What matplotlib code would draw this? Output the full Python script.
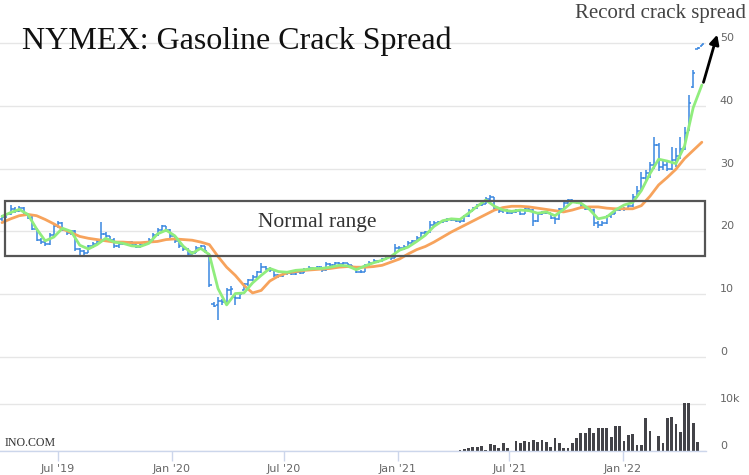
import numpy as np
import pandas as pd
import matplotlib
matplotlib.use("Agg")
import matplotlib.pyplot as plt
import matplotlib.dates as mdates
from matplotlib.transforms import ScaledTranslation, blended_transform_factory
from matplotlib.patches import Rectangle

# ---------------- data (weekly bars) ----------------
start_date = "2019-04-01"
n_weeks = 163

opens = [
    22.0, 22.3, 22.8, 23.6, 23.3, 23.8, 22.8, 22.2, 20.4, 18.6,
    18.3, 18.0, 19.4, 20.8, 21.4, 20.2, 19.8, 20.1, 17.2, 16.8,
    16.6, 17.6, 18.0, 18.4, 19.6, 19.2, 18.7, 17.6, 18.0, 18.1,
    18.3, 17.8, 17.5, 17.9, 18.3, 18.6, 19.4, 20.2, 20.8, 20.3,
    19.2, 18.4, 17.6, 17.2, 16.4, 16.6, 17.3, 17.6, 16.4, 8.4,
    8.3, 8.9, 8.8, 10.6, 9.6, 9.4, 10.7, 11.6, 12.3, 12.8,
    13.5, 14.3, 14.0, 13.9, 13.0, 12.9, 13.3, 13.4, 13.2, 13.6,
    13.4, 13.9, 14.2, 14.0, 14.3, 13.8, 14.8, 14.6, 14.9, 14.8,
    14.9, 14.6, 14.4, 13.5, 13.6, 14.6, 15.0, 15.3, 15.3, 15.6,
    15.9, 15.8, 17.4, 17.3, 17.5, 18.2, 18.4, 19.0, 19.7, 19.9,
    21.0, 21.4, 21.5, 21.6, 21.9, 21.8, 21.7, 21.6, 22.4, 23.3,
    23.7, 24.2, 24.4, 25.2, 25.4, 23.6, 23.2, 23.4, 22.9, 23.1,
    23.3, 22.8, 23.6, 23.4, 21.6, 22.8, 23.0, 22.9, 22.2, 21.9,
    23.6, 24.6, 25.0, 24.9, 24.6, 24.0, 23.6, 23.4, 21.4, 21.0,
    21.3, 22.4, 22.8, 23.4, 23.5, 23.6, 24.0, 25.5, 26.5, 28.5,
    29.3, 30.5, 33.8, 30.3, 30.6, 30.0, 31.4, 32.0, 33.2, 36.0,
    43.0, 49.0, 49.6,
]
highs = [
    22.6, 23.0, 24.2, 23.9, 24.0, 23.9, 23.0, 22.4, 20.6, 18.9,
    18.5, 19.7, 21.0, 21.6, 21.5, 20.4, 20.3, 20.2, 17.4, 17.0,
    17.9, 18.3, 18.6, 21.5, 19.9, 19.3, 18.9, 18.2, 18.4, 18.5,
    18.4, 18.0, 18.1, 18.5, 19.0, 19.7, 20.5, 21.0, 20.9, 20.4,
    19.3, 18.6, 17.9, 17.3, 16.9, 17.6, 17.9, 17.7, 16.6, 8.7,
    9.6, 9.3, 11.0, 11.3, 9.9, 10.4, 11.8, 12.4, 13.0, 13.7,
    14.9, 14.5, 14.3, 14.0, 13.2, 13.5, 13.7, 13.5, 13.8, 13.7,
    14.1, 14.5, 14.3, 14.5, 14.4, 15.2, 15.0, 15.2, 15.1, 15.1,
    15.0, 14.7, 14.5, 13.9, 14.8, 15.3, 15.6, 15.5, 15.8, 16.1,
    16.0, 18.0, 17.6, 17.8, 18.4, 18.6, 19.2, 19.9, 20.1, 21.7,
    21.6, 21.7, 21.8, 22.1, 22.0, 21.9, 21.8, 22.6, 23.5, 23.9,
    24.4, 24.6, 25.5, 25.8, 25.5, 23.8, 23.6, 23.5, 23.3, 23.5,
    23.4, 23.8, 23.7, 23.5, 23.0, 23.2, 23.1, 23.0, 22.3, 23.8,
    24.8, 25.2, 25.1, 25.0, 24.7, 24.1, 23.8, 23.5, 21.6, 21.6,
    22.6, 23.0, 23.6, 23.8, 23.9, 24.3, 26.0, 27.2, 29.5, 29.8,
    31.0, 35.0, 34.1, 31.2, 31.0, 33.5, 33.3, 35.0, 36.6, 41.7,
    45.7, 49.4, 49.9,
]
lows = [
    21.7, 22.1, 22.6, 23.0, 23.1, 22.5, 21.9, 20.2, 18.4, 18.0,
    17.7, 17.9, 19.2, 20.5, 20.0, 19.5, 19.4, 16.9, 16.3, 16.2,
    16.5, 17.4, 17.8, 18.3, 18.9, 18.4, 17.3, 17.4, 17.8, 17.9,
    17.6, 17.3, 17.4, 17.7, 18.1, 18.4, 19.2, 20.0, 19.9, 18.9,
    18.2, 17.3, 16.9, 16.1, 16.2, 16.5, 17.1, 16.5, 11.1, 7.9,
    5.9, 8.3, 8.6, 9.9, 8.3, 9.2, 10.6, 11.3, 12.1, 12.6,
    13.3, 13.8, 13.6, 12.7, 12.6, 12.8, 13.1, 13.0, 13.1, 13.2,
    13.3, 13.8, 13.8, 13.9, 13.6, 13.7, 14.4, 14.5, 14.6, 14.6,
    14.4, 14.2, 13.3, 13.3, 13.5, 14.5, 14.9, 15.0, 15.2, 15.5,
    15.5, 15.7, 17.0, 17.1, 17.4, 18.0, 18.3, 18.9, 19.5, 19.8,
    20.8, 21.2, 21.3, 21.5, 21.6, 21.5, 21.4, 21.5, 22.3, 23.2,
    23.6, 24.0, 24.3, 25.0, 23.3, 22.9, 23.0, 22.7, 22.8, 22.9,
    22.6, 22.7, 23.2, 20.8, 21.5, 22.6, 22.7, 21.9, 21.2, 21.8,
    23.5, 24.4, 24.6, 24.3, 23.8, 23.4, 23.2, 20.8, 20.6, 20.8,
    21.2, 22.2, 22.7, 23.2, 23.3, 23.5, 23.9, 25.3, 26.3, 28.0,
    28.5, 29.9, 29.6, 29.8, 29.6, 29.7, 30.3, 31.5, 33.0, 36.0,
    42.8, 49.0, 49.5,
]
closes = [
    22.3, 22.8, 23.6, 23.3, 23.8, 22.8, 22.2, 20.4, 18.6, 18.3,
    18.0, 19.4, 20.8, 21.4, 20.2, 19.8, 20.1, 17.2, 16.8, 16.6,
    17.6, 18.0, 18.4, 19.6, 19.2, 18.7, 17.6, 18.0, 18.1, 18.3,
    17.8, 17.5, 17.9, 18.3, 18.6, 19.4, 20.2, 20.8, 20.3, 19.2,
    18.4, 17.6, 17.2, 16.4, 16.6, 17.3, 17.6, 16.8, 11.4, 8.2,
    8.9, 8.8, 10.6, 10.9, 9.4, 10.1, 11.6, 12.3, 12.8, 13.5,
    14.3, 14.0, 13.9, 13.0, 12.9, 13.3, 13.4, 13.2, 13.6, 13.4,
    13.9, 14.2, 14.0, 14.3, 13.8, 14.8, 14.6, 14.9, 14.8, 14.9,
    14.6, 14.4, 13.5, 13.6, 14.6, 15.0, 15.3, 15.3, 15.6, 15.9,
    15.8, 17.4, 17.3, 17.5, 18.2, 18.4, 19.0, 19.7, 19.9, 21.0,
    21.4, 21.5, 21.6, 21.9, 21.8, 21.7, 21.6, 22.4, 23.3, 23.7,
    24.2, 24.4, 25.2, 25.4, 23.6, 23.2, 23.4, 22.9, 23.1, 23.3,
    22.8, 23.6, 23.4, 21.6, 22.8, 23.0, 22.9, 22.2, 21.9, 23.6,
    24.6, 25.0, 24.9, 24.6, 24.0, 23.6, 23.4, 21.4, 21.0, 21.3,
    22.4, 22.8, 23.4, 23.5, 23.6, 24.0, 25.5, 26.5, 28.5, 29.3,
    30.5, 33.8, 30.3, 30.6, 30.0, 31.4, 32.0, 33.2, 35.6, 40.4,
    45.3, 49.2, 49.8,
]

# moving-average lines, read every second week
ma_short = [
    22.4, 23.0, 23.5, 22.7, 20.4, 18.5, 19.1, 20.5, 20.0, 17.8,
    17.2, 17.9, 18.9, 18.3, 18.1, 17.7, 17.6, 18.1, 19.6, 20.2,
    19.3, 17.6, 16.5, 17.3, 16.3, 10.9, 8.3, 10.1, 10.2, 11.8,
    13.0, 14.1, 13.6, 13.5, 13.8, 13.9, 14.1, 14.1, 14.3, 14.6,
    14.5, 13.9, 14.5, 15.0, 15.4, 16.0, 17.0, 17.5, 18.4, 19.4,
    20.8, 21.7, 22.0, 21.9, 22.9, 24.0, 25.0, 24.0, 23.4, 23.2,
    23.4, 23.3, 22.9, 23.1, 22.5, 23.5, 24.7, 24.5, 23.5, 22.0,
    22.3, 23.4, 24.2, 24.6, 26.5, 29.2, 31.5, 31.2, 30.8, 33.6,
    39.7, 43.3,
]
ma_long = [
    21.4, 22.0, 22.5, 22.7, 22.5, 21.9, 21.2, 20.4, 19.8, 19.2,
    18.9, 18.7, 18.5, 18.3, 18.3, 18.2, 18.2, 18.3, 18.4, 18.7,
    18.8, 18.7, 18.6, 18.3, 17.9, 16.0, 14.3, 13.0, 11.4, 10.2,
    10.6, 12.1, 12.9, 13.4, 13.6, 13.8, 13.9, 14.0, 14.1, 14.3,
    14.4, 14.3, 14.3, 14.4, 14.6, 15.1, 15.6, 16.4, 17.1, 17.6,
    18.3, 19.1, 19.9, 20.6, 21.3, 22.0, 22.7, 23.4, 23.8, 24.0,
    24.0, 23.9, 23.7, 23.5, 23.3, 23.1, 23.4, 23.8, 23.9, 23.9,
    23.7, 23.6, 23.6, 23.6, 24.1, 25.6, 27.4, 28.6, 29.9, 31.6,
    32.9, 34.2,
]

# weekly volume in thousands, from week index 106 to 161
volume_start = 106
volume_k = [
    0.2, 0.4, 0.6, 0.9, 0.9, 1.1, 0.2, 1.4, 1.2, 0.6,
    1.7, 0.6, 0.1, 2.1, 1.7, 2.1, 2.0, 2.4, 1.9, 2.3,
    2.0, 0.9, 2.7, 1.7, 0.6, 0.6, 1.8, 2.8, 3.9, 3.8,
    4.9, 3.8, 4.9, 4.9, 4.9, 2.9, 5.3, 5.3, 2.1, 3.3,
    3.6, 1.2, 1.2, 7.0, 4.2, 0.0, 3.1, 1.7, 7.0, 7.2,
    5.8, 4.1, 10.2, 10.2, 6.0, 1.9,
]

normal_low, normal_high = 16.1, 24.9
price_ticks = [0, 10, 20, 30, 40, 50]
volume_ticks = [0, 10]
volume_tick_labels = ["0", "10k"]
month_ticks = ["2019-07-01", "2020-01-01", "2020-07-01", "2021-01-01", "2021-07-01", "2022-01-01"]
month_labels = ["Jul '19", "Jan '20", "Jul '20", "Jan '21", "Jul '21", "Jan '22"]

# ---------------- figure ----------------
W, H = 749, 475
fig = plt.figure(figsize=(W / 100, H / 100), dpi=100)
fig.patch.set_facecolor("white")


def fx(px):
    return px / W


def fy(py):
    return 1 - py / H


dates = pd.date_range(start_date, periods=n_weeks, freq="7D")
dnum = mdates.date2num(dates)
px_per_day = 4.32 / 7
x_left = dnum[0] - 2 / px_per_day
axes_right_px = 706
xlim = (x_left, x_left + axes_right_px / px_per_day)

BLUE = "#3a87e0"
GREEN = "#90ed7d"
ORANGE = "#f7a35c"
GRID = "#e6e6e6"
LABEL = "#666666"
label_shift = ScaledTranslation(0, 6 / 100, fig.dpi_scale_trans)

# price panel
ax = fig.add_axes([0, fy(362), fx(axes_right_px), (362 - 8) / H])
ax.set_xlim(xlim)
ax.set_ylim((357 - 362) / 6.28, (357 - 8) / 6.28)
for s in ax.spines.values():
    s.set_visible(False)
ax.set_yticks(price_ticks)
ax.yaxis.tick_right()
ax.tick_params(axis="y", length=0, pad=10, labelsize=8, labelcolor=LABEL)
ax.tick_params(axis="x", bottom=False, labelbottom=False)
ax.grid(axis="y", color=GRID, lw=1)
ax.set_axisbelow(True)
for lbl in ax.get_yticklabels():
    lbl.set_transform(lbl.get_transform() + label_shift)

tw = 2.2 / px_per_day
ax.vlines(dnum, lows, highs, color=BLUE, lw=1.1, zorder=2)
ax.hlines(opens, dnum - tw, dnum, color=BLUE, lw=1.1, zorder=2)
ax.hlines(closes, dnum, dnum + tw, color=BLUE, lw=1.1, zorder=2)

ax.plot(dnum[::2], ma_long, color=ORANGE, lw=2.0, zorder=3, solid_capstyle="round")
ax.plot(dnum[::2], ma_short, color=GREEN, lw=2.0, zorder=4, solid_capstyle="round")

bt = blended_transform_factory(ax.transAxes, ax.transData)
ax.add_patch(Rectangle((4.7 / axes_right_px, normal_low), (705 - 4.7) / axes_right_px,
                       normal_high - normal_low, transform=bt, fill=False,
                       edgecolor="#555555", lw=1.6, zorder=5, clip_on=False))

# volume panel
vax = fig.add_axes([0, fy(451), fx(axes_right_px), 66 / H])
vax.set_xlim(xlim)
vax.set_ylim(0, 66 / 4.7)
for name, s in vax.spines.items():
    s.set_visible(name == "bottom")
vax.spines["bottom"].set_color("#ccd6eb")
vax.spines["bottom"].set_linewidth(1)
vidx = np.arange(volume_start, volume_start + len(volume_k))
vax.bar(dnum[vidx], volume_k, width=2.8 / px_per_day, color="#434348", zorder=2)
vax.set_yticks(volume_ticks)
vax.set_yticklabels(volume_tick_labels)
vax.yaxis.tick_right()
vax.tick_params(axis="y", length=0, pad=10, labelsize=8, labelcolor=LABEL)
vax.grid(axis="y", color=GRID, lw=1)
vax.set_axisbelow(True)
for lbl in vax.get_yticklabels():
    lbl.set_transform(lbl.get_transform() + label_shift)
vax.set_xticks(mdates.date2num(pd.to_datetime(month_ticks)))
vax.set_xticklabels(month_labels)
vax.tick_params(axis="x", length=7, width=1, color="#ccd6eb", pad=2,
                labelsize=8, labelcolor=LABEL)

# texts
serif = ["Liberation Serif", "DejaVu Serif"]
fig.text(fx(22), fy(49), "NYMEX: Gasoline Crack Spread", family=serif, size=23,
         color="#111111", va="baseline", ha="left")
fig.text(fx(575), fy(18), "Record crack spread", family=serif, size=15,
         color="#444444", va="baseline", ha="left")
fig.text(fx(258), fy(226.7), "Normal range", family=serif, size=15.5,
         color="#333333", va="baseline", ha="left")
fig.text(fx(5), fy(446), "INO.COM", family=serif, size=8.6,
         color="#333333", va="baseline", ha="left")

fig.add_artist(matplotlib.patches.FancyArrowPatch(
    (fx(702.7), fy(85)), (fx(718), fy(32)), transform=fig.transFigure,
    arrowstyle="-|>", mutation_scale=14, color="black", lw=2))

fig.savefig("out.png", dpi=100, facecolor="white")
